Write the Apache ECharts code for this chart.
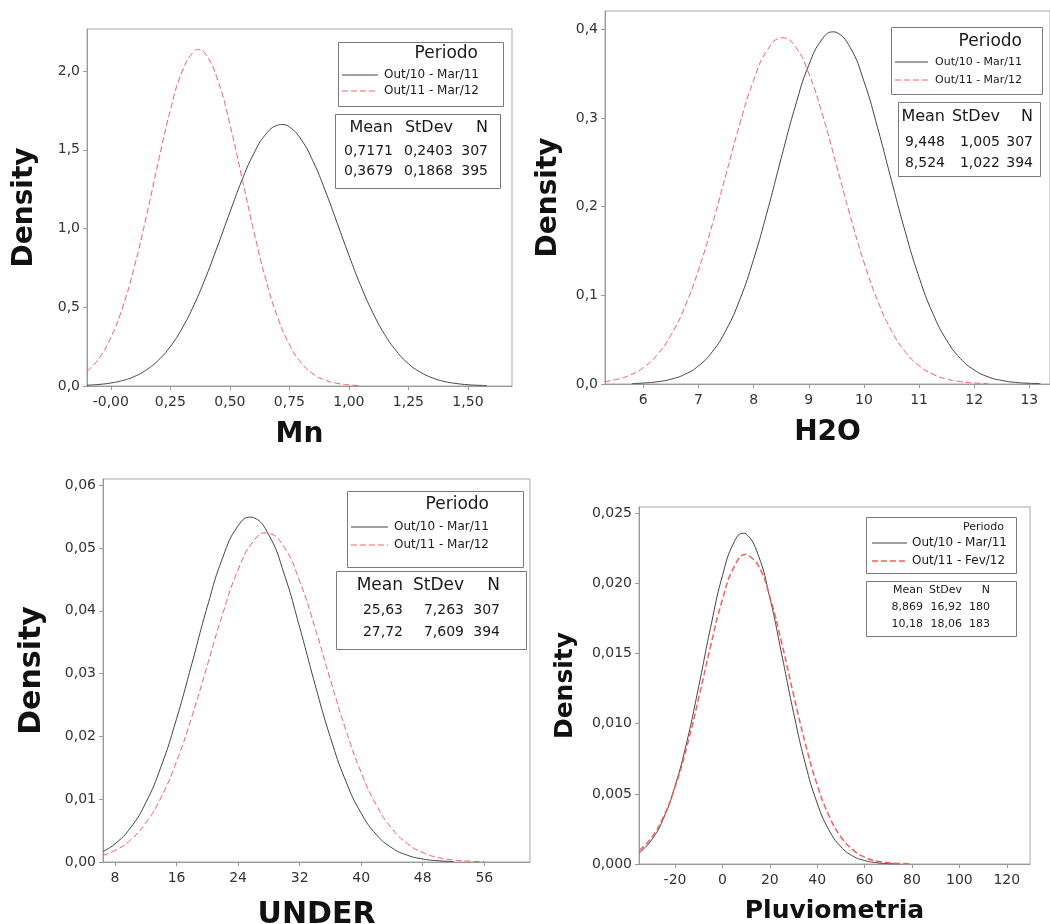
<!DOCTYPE html>
<html>
<head>
<meta charset="utf-8">
<script src="https://cdn.jsdelivr.net/npm/echarts@6/dist/echarts.min.js"></script>
<style>
html, body { margin: 0; background: #fff; }
#chart { width: 1050px; height: 924px; }
</style>
</head>
<body>
<div id="chart"></div>
<script>
// Mn
var mnBlackX = [-0.10, -0.05, 0.00, 0.05, 0.10, 0.15, 0.20, 0.25, 0.30, 0.35, 0.40, 0.45, 0.50, 0.55, 0.60, 0.65, 0.70, 0.717, 0.75, 0.80, 0.85, 0.90, 0.95, 1.00, 1.05, 1.10, 1.15, 1.20, 1.25, 1.30, 1.35, 1.40, 1.45, 1.50, 1.55, 1.58];
var mnBlackY = [0.005, 0.010, 0.019, 0.035, 0.061, 0.103, 0.164, 0.251, 0.368, 0.517, 0.695, 0.895, 1.103, 1.304, 1.474, 1.597, 1.656, 1.660, 1.645, 1.564, 1.425, 1.243, 1.038, 0.830, 0.636, 0.467, 0.328, 0.221, 0.142, 0.088, 0.052, 0.029, 0.016, 0.008, 0.004, 0.003];
var mnRedX = [-0.10, -0.05, 0.00, 0.05, 0.10, 0.15, 0.20, 0.25, 0.30, 0.35, 0.368, 0.40, 0.45, 0.50, 0.55, 0.60, 0.65, 0.70, 0.75, 0.80, 0.85, 0.90, 0.95, 1.00, 1.05];
var mnRedY = [0.093, 0.175, 0.307, 0.502, 0.763, 1.081, 1.426, 1.750, 1.999, 2.126, 2.136, 2.104, 1.939, 1.663, 1.328, 0.987, 0.683, 0.440, 0.264, 0.147, 0.076, 0.037, 0.017, 0.007, 0.003];

// H2O
var h2oBlackX = [5.8, 6.0, 6.25, 6.5, 6.75, 7.0, 7.25, 7.5, 7.75, 8.0, 8.25, 8.5, 8.75, 9.0, 9.25, 9.448, 9.5, 9.75, 10.0, 10.25, 10.5, 10.75, 11.0, 11.25, 11.5, 11.75, 12.0, 12.25, 12.5, 12.75, 13.0, 13.2];
var h2oBlackY = [0.0005, 0.0011, 0.0025, 0.0054, 0.0108, 0.0204, 0.0363, 0.0607, 0.0952, 0.1406, 0.1951, 0.2544, 0.3119, 0.3594, 0.3893, 0.3970, 0.3964, 0.3795, 0.3414, 0.2887, 0.2295, 0.1715, 0.1205, 0.0796, 0.0494, 0.0288, 0.0158, 0.0081, 0.0040, 0.0018, 0.0008, 0.0004];
var h2oRedX = [5.3, 5.5, 5.75, 6.0, 6.25, 6.5, 6.75, 7.0, 7.25, 7.5, 7.75, 8.0, 8.25, 8.5, 8.524, 8.75, 9.0, 9.25, 9.5, 9.75, 10.0, 10.25, 10.5, 10.75, 11.0, 11.25, 11.5, 11.75, 12.0, 12.25];
var h2oRedY = [0.0027, 0.0049, 0.0098, 0.0185, 0.0328, 0.0549, 0.0865, 0.1284, 0.1795, 0.2363, 0.2931, 0.3423, 0.3766, 0.3902, 0.3903, 0.3809, 0.3502, 0.3033, 0.2474, 0.1901, 0.1376, 0.0938, 0.0602, 0.0364, 0.0207, 0.0111, 0.0056, 0.0027, 0.0012, 0.0005];

// UNDER
var underBlackX = [6.44, 8, 10, 12, 14, 16, 18, 20, 22, 24, 25.63, 26, 28, 30, 32, 34, 36, 38, 40, 42, 44, 46, 48, 50, 52];
var underBlackY = [0.00167, 0.00289, 0.00542, 0.00944, 0.01524, 0.02281, 0.03163, 0.04068, 0.04848, 0.05356, 0.05493, 0.05486, 0.05208, 0.04583, 0.03739, 0.02828, 0.01982, 0.01288, 0.00776, 0.00433, 0.00224, 0.00108, 0.00048, 0.0002, 0.00008];
var underRedX = [6.44, 8, 10, 12, 14, 16, 18, 20, 22, 24, 26, 27.72, 28, 30, 32, 34, 36, 38, 40, 42, 44, 46, 48, 50, 52, 54, 56];
var underRedY = [0.00105, 0.00183, 0.00348, 0.00621, 0.01032, 0.01601, 0.02318, 0.03134, 0.03953, 0.04653, 0.05111, 0.05243, 0.05239, 0.05013, 0.04476, 0.0373, 0.029, 0.02105, 0.01426, 0.00901, 0.00532, 0.00293, 0.0015, 0.00072, 0.00032, 0.00014, 0.00005];

// Pluviometria
var pluvBlackX = [-35, -30, -25, -20, -15, -10, -5, 0, 5, 8.87, 10, 15, 20, 25, 30, 35, 40, 45, 50, 55, 60, 65, 70, 75];
var pluvBlackY = [0.00081, 0.00169, 0.0032, 0.00555, 0.00872, 0.01266, 0.01685, 0.02055, 0.02297, 0.02358, 0.02353, 0.02208, 0.01899, 0.01497, 0.01081, 0.00715, 0.00434, 0.00241, 0.00123, 0.00057, 0.00025, 0.0001, 0.00003, 0.00001];
var pluvRedX = [-35, -30, -25, -20, -15, -10, -5, 0, 5, 10, 10.18, 15, 20, 25, 30, 35, 40, 45, 50, 55, 60, 65, 70, 75, 80];
var pluvRedY = [0.00097, 0.00186, 0.00331, 0.00547, 0.00836, 0.01183, 0.01552, 0.01884, 0.0212, 0.02209, 0.02209, 0.02132, 0.01905, 0.01577, 0.0121, 0.00859, 0.00565, 0.00344, 0.00194, 0.00102, 0.00049, 0.00022, 0.00009, 0.00004, 0.00001];

// ticks and labels
var mnXTicks = [0, 0.25, 0.5, 0.75, 1, 1.25, 1.5];
var mnXLabels = ["-0,00", "0,25", "0,50", "0,75", "1,00", "1,25", "1,50"];
var mnYTicks = [0, 0.5, 1, 1.5, 2];
var mnYLabels = ["0,0", "0,5", "1,0", "1,5", "2,0"];
var h2oXTicks = [6, 7, 8, 9, 10, 11, 12, 13];
var h2oXLabels = ["6", "7", "8", "9", "10", "11", "12", "13"];
var h2oYTicks = [0, 0.1, 0.2, 0.3, 0.4];
var h2oYLabels = ["0,0", "0,1", "0,2", "0,3", "0,4"];
var underXTicks = [8, 16, 24, 32, 40, 48, 56];
var underXLabels = ["8", "16", "24", "32", "40", "48", "56"];
var underYTicks = [0, 0.01, 0.02, 0.03, 0.04, 0.05, 0.06];
var underYLabels = ["0,00", "0,01", "0,02", "0,03", "0,04", "0,05", "0,06"];
var pluvXTicks = [-20, 0, 20, 40, 60, 80, 100, 120];
var pluvXLabels = ["-20", "0", "20", "40", "60", "80", "100", "120"];
var pluvYTicks = [0, 0.005, 0.01, 0.015, 0.02, 0.025];
var pluvYLabels = ["0,000", "0,005", "0,010", "0,015", "0,020", "0,025"];

var axisTitles = ["Mn", "H2O", "UNDER", "Pluviometria"];
var legendTitle = "Periodo";
var periods = [
  ["Out/10 - Mar/11", "Out/11 - Mar/12"],
  ["Out/10 - Mar/11", "Out/11 - Mar/12"],
  ["Out/10 - Mar/11", "Out/11 - Mar/12"],
  ["Out/10 - Mar/11", "Out/11 - Fev/12"]
];
var statsHeader = ["Mean", "StDev", "N"];
var stats = [
  [["0,7171", "0,2403", "307"], ["0,3679", "0,1868", "395"]],
  [["9,448", "1,005", "307"], ["8,524", "1,022", "394"]],
  [["25,63", "7,263", "307"], ["27,72", "7,609", "394"]],
  [["8,869", "16,92", "180"], ["10,18", "18,06", "183"]]
];

var FONT = '"DejaVu Sans", Verdana, sans-serif';
var BLACK = "#444";
var RED = "#ff5a5a";

var panels = [
  { grid: [87, 29, 425, 357], x: [-0.10, 1.685], y: [0, 2.267], xt: mnXTicks, xl: mnXLabels, yt: mnYTicks, yl: mnYLabels,
    b: [mnBlackX, mnBlackY], r: [mnRedX, mnRedY], gapY: 48, gapX: 35, nameSize: 28, labelSize: 14 },
  { grid: [605, 11, 445, 373], x: [5.305, 13.375], y: [0, 0.4205], xt: h2oXTicks, xl: h2oXLabels, yt: h2oYTicks, yl: h2oYLabels,
    b: [h2oBlackX, h2oBlackY], r: [h2oRedX, h2oRedY], gapY: 42, gapX: 35, nameSize: 28, labelSize: 14 },
  { grid: [103, 479, 427, 383], x: [6.44, 61.94], y: [0, 0.061], xt: underXTicks, xl: underXLabels, yt: underYTicks, yl: underYLabels,
    b: [underBlackX, underBlackY], r: [underRedX, underRedY], gapY: 56, gapX: 38, nameSize: 30, labelSize: 14 },
  { grid: [639, 507, 391, 357], x: [-35.2, 129.8], y: [0, 0.02545], xt: pluvXTicks, xl: pluvXLabels, yt: pluvYTicks, yl: pluvYLabels,
    b: [pluvBlackX, pluvBlackY], r: [pluvRedX, pluvRedY], gapY: 61, gapX: 35, nameSize: 25, labelSize: 14 }
];

// legend / stats box placement
var boxes = [
  { leg: [338, 42, 165, 64], per: [478, 54, 17], line: [342, 378], ly: [75, 91], lt: [384, 12],
    st: [335, 114, 165, 74], hy: 128, ry: [151, 171], cols: [393, 453, 488], hf: 16, rf: 14, dash: [6, 3], rw: 1 },
  { leg: [891, 27, 151, 67], per: [1022, 42, 17], line: [895, 928], ly: [62, 80], lt: [935, 11],
    st: [898, 102, 142, 74], hy: 117, ry: [142, 163], cols: [945, 1000, 1033], hf: 16, rf: 14, dash: [6, 3], rw: 1 },
  { leg: [347, 491, 176, 76], per: [489, 505, 17], line: [351, 388], ly: [527, 545], lt: [394, 12],
    st: [336, 571, 190, 78], hy: 586, ry: [610, 632], cols: [403, 464, 500], hf: 17, rf: 14, dash: [6, 3], rw: 1 },
  { leg: [866, 517, 150, 56], per: [1004, 527, 11], line: [872, 907], ly: [543, 561], lt: [912, 12],
    st: [866, 581, 150, 55], hy: 590, ry: [607, 624], cols: [923, 962, 990], hf: 11, rf: 11, dash: [6, 3], rw: 1.5 }
];

function pairs(xs, ys) {
  return xs.map(function(x, i) { return [x, ys[i]]; });
}

function labelFor(ticks, labels) {
  return function(v) {
    for (var i = 0; i < ticks.length; i++) {
      if (Math.abs(ticks[i] - v) < 1e-9) return labels[i];
    }
    return "";
  };
}

function txt(text, x, y, size, align) {
  return {
    type: "text",
    z: 10,
    style: {
      text: text, x: x, y: y, font: size + "px " + FONT, fill: "#1a1a1a",
      align: align, textAlign: align, verticalAlign: "middle", textVerticalAlign: "middle"
    }
  };
}

function rect(r) {
  return {
    type: "rect",
    z: 5,
    shape: { x: r[0] + 0.5, y: r[1] + 0.5, width: r[2], height: r[3] },
    style: { fill: "#fff", stroke: "#7a7a7a", lineWidth: 1 }
  };
}

function seg(x1, x2, y, color, dash, w) {
  return {
    type: "line",
    z: 10,
    shape: { x1: x1, y1: y, x2: x2, y2: y },
    style: { stroke: color, lineWidth: w, lineDash: dash }
  };
}

var grids = [], xAxes = [], yAxes = [], series = [], graphics = [];

panels.forEach(function(p, i) {
  grids.push({
    left: p.grid[0], top: p.grid[1], width: p.grid[2], height: p.grid[3],
    outerBoundsMode: "none", containLabel: false,
    show: true, borderColor: "#a8a8a8", borderWidth: 1, backgroundColor: "transparent"
  });
  xAxes.push({
    type: "value", gridIndex: i, min: p.x[0], max: p.x[1],
    name: axisTitles[i], nameLocation: "middle", nameGap: p.gapX,
    nameTextStyle: { fontFamily: FONT, fontWeight: "bold", fontSize: p.nameSize, color: "#111" },
    axisLine: { show: true, onZero: false, lineStyle: { color: "#999" } },
    axisTick: { show: true, length: 4, lineStyle: { color: "#999" }, customValues: p.xt },
    axisLabel: { customValues: p.xt, formatter: labelFor(p.xt, p.xl), fontFamily: FONT, fontSize: p.labelSize, color: "#333", margin: 9 },
    splitLine: { show: false }
  });
  yAxes.push({
    type: "value", gridIndex: i, min: p.y[0], max: p.y[1],
    name: "Density", nameLocation: "middle", nameGap: p.gapY,
    nameTextStyle: { fontFamily: FONT, fontWeight: "bold", fontSize: p.nameSize, color: "#111" },
    axisLine: { show: true, onZero: false, lineStyle: { color: "#999" } },
    axisTick: { show: true, length: 4, lineStyle: { color: "#999" }, customValues: p.yt },
    axisLabel: { customValues: p.yt, formatter: labelFor(p.yt, p.yl), fontFamily: FONT, fontSize: p.labelSize, color: "#333", margin: 7 },
    splitLine: { show: false }
  });
  series.push({
    type: "line", xAxisIndex: i, yAxisIndex: i, data: pairs(p.b[0], p.b[1]),
    smooth: 0.5, showSymbol: false, silent: true,
    lineStyle: { color: BLACK, width: 1 }
  });
  series.push({
    type: "line", xAxisIndex: i, yAxisIndex: i, data: pairs(p.r[0], p.r[1]),
    smooth: 0.5, showSymbol: false, silent: true,
    lineStyle: { color: RED, width: boxes[i].rw, type: boxes[i].dash }
  });

  var b = boxes[i];
  graphics.push(rect(b.leg));
  graphics.push(txt(legendTitle, b.per[0], b.per[1], b.per[2], "right"));
  graphics.push(seg(b.line[0], b.line[1], b.ly[0], BLACK, null, 1));
  graphics.push(seg(b.line[0], b.line[1], b.ly[1], RED, b.dash, b.rw));
  graphics.push(txt(periods[i][0], b.lt[0], b.ly[0], b.lt[1], "left"));
  graphics.push(txt(periods[i][1], b.lt[0], b.ly[1], b.lt[1], "left"));
  graphics.push(rect(b.st));
  statsHeader.forEach(function(h, c) {
    graphics.push(txt(h, b.cols[c], b.hy, b.hf, "right"));
  });
  stats[i].forEach(function(row, r) {
    row.forEach(function(v, c) {
      graphics.push(txt(v, b.cols[c], b.ry[r], b.rf, "right"));
    });
  });
});

var chart = echarts.init(document.getElementById("chart"));
chart.setOption({
  backgroundColor: "#fff",
  animation: false,
  grid: grids,
  xAxis: xAxes,
  yAxis: yAxes,
  series: series,
  graphic: graphics
});
</script>
</body>
</html>
